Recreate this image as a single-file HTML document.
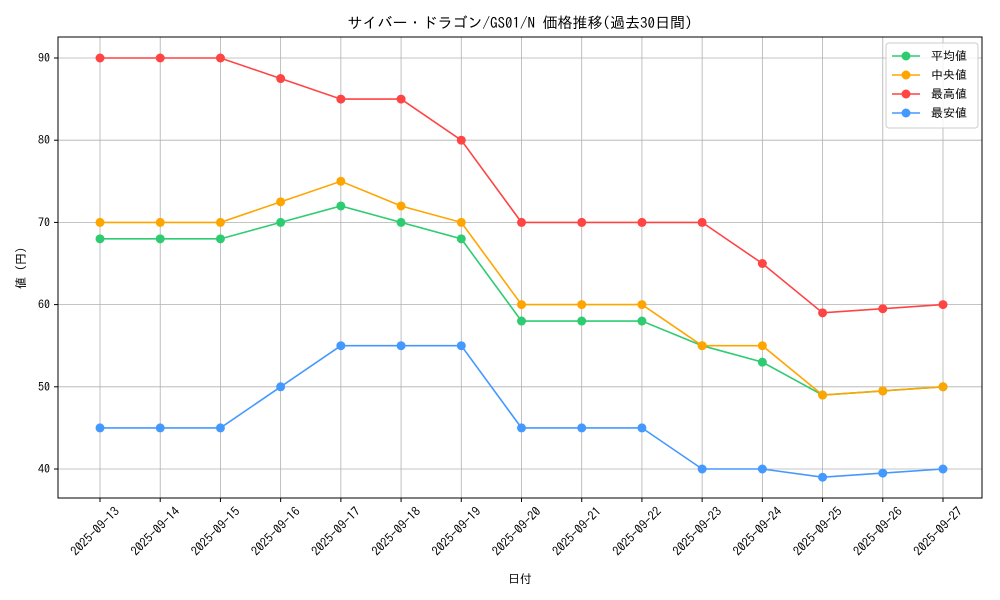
<!DOCTYPE html>
<html><head><meta charset="utf-8"><style>
body{margin:0;background:#fff;}
svg{display:block;font-family:"IPAGothic","Liberation Sans","Noto Sans CJK JP",sans-serif;}
</style></head><body>
<svg id="c" width="1000" height="600" viewBox="0 0 1000 600" xmlns="http://www.w3.org/2000/svg">
<rect width="1000" height="600" fill="#fff"/>
<text x="520" y="28" font-size="15" text-anchor="middle" fill="#000">サイバー・ドラゴン/GS01/N 価格推移(過去30日間)</text>
<g id="grid"></g>
<g id="series"></g>
<rect x="58" y="37" width="924" height="461" fill="none" stroke="#000" stroke-width="1"/>
<text x="520" y="583" font-size="12" text-anchor="middle">日付</text>
<text transform="translate(25,268) rotate(-90)" font-size="12" text-anchor="middle">値 (円)</text>
<g id="legend">
<rect x="886" y="43" width="92" height="85" rx="3" fill="#fff" fill-opacity="0.8" stroke="#ccc"/>
</g>
</svg>
<script>
const X=i=>100+i*60.214, Y=v=>469-(v-40)*8.22;
const dates=[];for(let d=13;d<=27;d++)dates.push("2025-09-"+d);
const ns="http://www.w3.org/2000/svg";
function el(p,t,a,txt){const e=document.createElementNS(ns,t);for(const k in a)e.setAttribute(k,a[k]);if(txt!=null)e.textContent=txt;p.appendChild(e);return e;}
const g=document.getElementById("grid");
dates.forEach((d,i)=>{const x=X(i);el(g,"line",{x1:x,x2:x,y1:37,y2:498,stroke:"#b0b0b0","stroke-width":0.8});
el(g,"line",{x1:x,x2:x,y1:498,y2:502,stroke:"#000"});
el(g,"text",{transform:`translate(${x+14},${506}) rotate(-45)`,"font-size":12.5,"text-anchor":"end","dominant-baseline":"hanging"},d);});
[40,50,60,70,80,90].forEach(v=>{const y=Y(v);el(g,"line",{x1:58,x2:982,y1:y,y2:y,stroke:"#b0b0b0","stroke-width":0.8});
el(g,"line",{x1:54,x2:58,y1:y,y2:y,stroke:"#000"});
el(g,"text",{x:50,y:y+4,"font-size":12,"text-anchor":"end"},v);});
const S=[
["平均値","#2ecc71",[68,68,68,70,72,70,68,58,58,58,55,53,49,49.5,50]],
["中央値","#ffa500",[70,70,70,72.5,75,72,70,60,60,60,55,55,49,49.5,50]],
["最高値","#ff4444",[90,90,90,87.5,85,85,80,70,70,70,70,65,59,59.5,60]],
["最安値","#4499ff",[45,45,45,50,55,55,55,45,45,45,40,40,39,39.5,40]]];
const s=document.getElementById("series"),L=document.getElementById("legend");
S.forEach(([n,c,d],k)=>{el(s,"polyline",{points:d.map((v,i)=>X(i)+","+Y(v)).join(" "),fill:"none",stroke:c,"stroke-width":1.6});
d.forEach((v,i)=>el(s,"circle",{cx:X(i),cy:Y(v),r:4.5,fill:c}));
const y=56+k*19;el(L,"line",{x1:892,x2:920,y1:y,y2:y,stroke:c,"stroke-width":1.6});
el(L,"circle",{cx:906,cy:y,r:4.5,fill:c});el(L,"text",{x:931,y:y+4,"font-size":12},n);});
</script>
</body></html>
